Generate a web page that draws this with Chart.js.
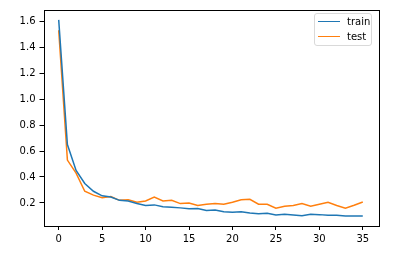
<!DOCTYPE html>
<html>
<head>
<meta charset="utf-8">
<script src="https://cdn.jsdelivr.net/npm/chart.js@4/dist/chart.umd.min.js"></script>
<style>
  html,body{margin:0;padding:0;background:#fff;}
  #wrap{position:relative;width:410px;height:259px;}
  #legend{position:absolute;left:314px;top:13px;width:58px;height:33px;box-sizing:border-box;
    border:1px solid #d9d9d9;border-radius:3px;background:rgba(255,255,255,0.85);
    font-family:"DejaVu Sans",sans-serif;font-size:10px;color:#000;}
  .row{position:absolute;left:3px;display:flex;align-items:center;}
  .sw{width:22px;height:1.5px;margin-right:7px;}
</style>
</head>
<body>
<div id="wrap">
  <canvas id="c" width="410" height="259"></canvas>
  <div id="legend">
    <div class="row" style="top:2px"><div class="sw" style="background:#1f77b4"></div>train</div>
    <div class="row" style="top:17px"><div class="sw" style="background:#ff7f0e"></div>test</div>
  </div>
</div>
<script>
const epochs = [0,1,2,3,4,5,6,7,8,9,10,11,12,13,14,15,16,17,18,19,20,21,22,23,24,25,26,27,28,29,30,31,32,33,34,35];
const trainLoss = [1.61,0.65,0.45,0.35,0.29,0.255,0.245,0.22,0.215,0.195,0.18,0.185,0.17,0.167,0.162,0.156,0.157,0.142,0.146,0.132,0.128,0.133,0.122,0.116,0.121,0.107,0.112,0.108,0.102,0.112,0.11,0.106,0.106,0.1,0.1,0.1];
const testLoss = [1.53,0.53,0.43,0.29,0.26,0.24,0.25,0.22,0.225,0.205,0.215,0.245,0.215,0.22,0.195,0.2,0.18,0.19,0.195,0.19,0.205,0.225,0.228,0.19,0.19,0.16,0.175,0.18,0.195,0.175,0.19,0.205,0.18,0.16,0.182,0.207];
const xTicks = [0,5,10,15,20,25,30,35];
const yTicks = [0.2,0.4,0.6,0.8,1.0,1.2,1.4,1.6];

const frame = {
  id:"frame",
  afterDraw(chart){
    const a=chart.chartArea, ctx=chart.ctx;
    ctx.save();
    ctx.strokeStyle="#000";ctx.lineWidth=1;
    ctx.strokeRect(Math.round(a.left)+0.5,Math.round(a.top)+0.5,Math.round(a.right-a.left),Math.round(a.bottom-a.top));
    ctx.restore();
  }
};

const tickFont = {family:"DejaVu Sans",size:10};
new Chart(document.getElementById("c"),{
  type:"line",
  data:{datasets:[
    {label:"train",data:epochs.map((e,i)=>({x:e,y:trainLoss[i]})),borderColor:"#1f77b4",borderWidth:1.5,pointRadius:0,tension:0,fill:false},
    {label:"test",data:epochs.map((e,i)=>({x:e,y:testLoss[i]})),borderColor:"#ff7f0e",borderWidth:1.5,pointRadius:0,tension:0,fill:false}
  ]},
  options:{
    responsive:false,animation:false,
    layout:{padding:{left:0,top:8,right:32,bottom:0}},
    plugins:{legend:{display:false},tooltip:{enabled:false}},
    scales:{
      x:{type:"linear",min:-1.75,max:36.75,
        afterBuildTicks:s=>{s.ticks=xTicks.map(v=>({value:v}));},
        afterFit:s=>{s.height=33;},
        border:{display:false},
        grid:{drawOnChartArea:false,drawTicks:true,tickLength:4,color:"#000",tickWidth:1},
        ticks:{font:tickFont,color:"#000",padding:3,maxRotation:0,callback:v=>String(v)}},
      y:{type:"linear",min:0.0224,max:1.686,
        afterBuildTicks:s=>{s.ticks=yTicks.map(v=>({value:v}));},
        afterFit:s=>{s.width=43.5;},
        border:{display:false},
        grid:{drawOnChartArea:false,drawTicks:true,tickLength:4,color:"#000",tickWidth:1},
        ticks:{font:tickFont,color:"#000",padding:4,callback:v=>v.toFixed(1)}}
    }
  },
  plugins:[frame]
});
</script>
</body>
</html>
